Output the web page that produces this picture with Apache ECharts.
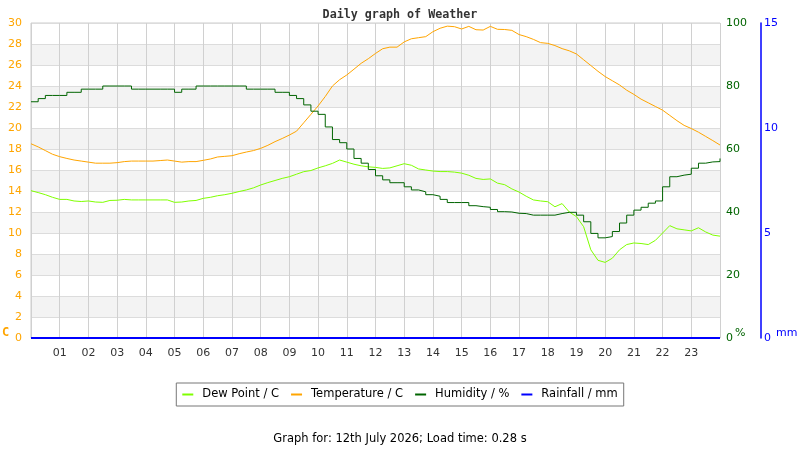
<!DOCTYPE html>
<html>
<head>
<meta charset="utf-8">
<script src="https://cdn.jsdelivr.net/npm/echarts@6/dist/echarts.min.js"></script>
<style>
html,body{margin:0;padding:0;background:#fff;}
#chart{width:800px;height:450px;}
</style>
</head>
<body>
<div id="chart"></div>
<script>
// Sample times (hours since midnight, every 15 minutes)
const hours = Array.from({length: 97}, (_, i) => i / 4);

const tempC = [
  18.5, 18.2, 17.85, 17.5,
  17.27, 17.1, 16.95, 16.85,
  16.75, 16.65, 16.65, 16.65,
  16.7, 16.8, 16.85, 16.85,
  16.85, 16.85, 16.9, 16.95,
  16.85, 16.75, 16.8, 16.8,
  16.92, 17.05, 17.24, 17.3,
  17.36, 17.55, 17.71, 17.85,
  18.06, 18.35, 18.7, 19.0,
  19.33, 19.7, 20.5, 21.3,
  22.1, 23.0, 24.0, 24.6,
  25.05, 25.6, 26.16, 26.6,
  27.1, 27.55, 27.7, 27.7,
  28.2, 28.5, 28.6, 28.7,
  29.17, 29.5, 29.7, 29.65,
  29.43, 29.68, 29.36, 29.33,
  29.68, 29.4, 29.38, 29.3,
  28.9, 28.7, 28.44, 28.13,
  28.06, 27.85, 27.56, 27.35,
  27.05, 26.5, 25.95, 25.4,
  24.9, 24.5, 24.1, 23.6,
  23.2, 22.75, 22.4, 22.05,
  21.7, 21.2, 20.7, 20.25,
  19.95, 19.6, 19.2, 18.8,
  18.38
];

const dewPointC = [
  14.03, 13.85, 13.65, 13.4,
  13.2, 13.2, 13.05, 13.0,
  13.05, 12.95, 12.92, 13.1,
  13.12, 13.2, 13.15, 13.15,
  13.15, 13.15, 13.15, 13.15,
  12.92, 12.95, 13.05, 13.1,
  13.3, 13.4, 13.55, 13.65,
  13.78, 13.95, 14.1, 14.3,
  14.57, 14.8, 15.0, 15.2,
  15.36, 15.6, 15.84, 15.95,
  16.2, 16.4, 16.63, 16.95,
  16.75, 16.55, 16.4, 16.3,
  16.25, 16.15, 16.2, 16.4,
  16.6, 16.45, 16.1, 16.0,
  15.9, 15.85, 15.85, 15.8,
  15.7, 15.5, 15.2, 15.1,
  15.15, 14.75, 14.6, 14.2,
  13.9, 13.5, 13.15, 13.05,
  12.98, 12.5, 12.8, 12.0,
  11.56, 10.6, 8.4, 7.4,
  7.2, 7.6, 8.4, 8.9,
  9.05, 9.0, 8.9, 9.3,
  10.0, 10.7, 10.4, 10.3,
  10.2, 10.5, 10.1, 9.8,
  9.7
];

const humidityPct = [
  75, 76, 77, 77,
  77, 78, 78, 79,
  79, 79, 80, 80,
  80, 80, 79, 79,
  79, 79, 79, 79,
  78, 79, 79, 80,
  80, 80, 80, 80,
  80, 80, 79, 79,
  79, 79, 78, 78,
  77, 76, 74, 72,
  71, 67, 63, 62,
  60, 57, 55.5, 53.5,
  51.5, 50.2, 49.3, 49.3,
  48, 47, 46.4, 45.5,
  45, 44, 43, 43,
  43, 42, 41.7, 41.5,
  40.8, 40.1, 40, 39.6,
  39.5, 39, 39, 39,
  39, 39.5, 39.9, 39.9,
  39, 36.9, 33.2, 31.8,
  32.2, 33.8, 36.5, 39,
  40.6, 41.5, 42.8, 43.5,
  48, 51.2, 51.7, 52,
  53.9, 55.5, 55.9, 56,
  57
];

const rainfallMm = [
  0, 0, 0, 0, 0, 0, 0, 0, 0, 0, 0, 0, 0, 0, 0, 0,
  0, 0, 0, 0, 0, 0, 0, 0, 0, 0, 0, 0, 0, 0, 0, 0,
  0, 0, 0, 0, 0, 0, 0, 0, 0, 0, 0, 0, 0, 0, 0, 0,
  0, 0, 0, 0, 0, 0, 0, 0, 0, 0, 0, 0, 0, 0, 0, 0,
  0, 0, 0, 0, 0, 0, 0, 0, 0, 0, 0, 0, 0, 0, 0, 0,
  0, 0, 0, 0, 0, 0, 0, 0, 0, 0, 0, 0, 0, 0, 0, 0,
  0
];

const seriesNames = ['Dew Point / C', 'Temperature / C', 'Humidity / %', 'Rainfall / mm'];
const titleText = 'Daily graph of Weather';
const footerText = 'Graph for: 12th July 2026; Load time: 0.28 s';

const pair = arr => hours.map((h, i) => [h, arr[i]]);

const chart = echarts.init(document.getElementById('chart'));
chart.setOption({
  animation: false,
  backgroundColor: '#ffffff',
  title: [
    {
      text: titleText, left: 'center', top: 4,
      textStyle: {fontFamily: 'DejaVu Sans Mono', fontWeight: 'bold', fontSize: 11.7, color: '#333'}
    },
    {
      text: footerText, left: 'center', top: 428,
      textStyle: {fontFamily: 'DejaVu Sans', fontWeight: 'normal', fontSize: 11.5, color: '#000'}
    }
  ],
  legend: {
    data: seriesNames,
    left: 'center', top: 383,
    borderColor: '#777', borderWidth: 1,
    padding: [5, 6],
    itemGap: 12,
    itemWidth: 11, itemHeight: 2,
    icon: 'rect',
    textStyle: {fontFamily: 'DejaVu Sans', fontSize: 11.5, color: '#000', padding: [0, 0, 0, 4], lineHeight: 13}
  },
  grid: {
    left: 31, right: 80, top: 23, bottom: 112,
    show: true, borderColor: '#cccccc', borderWidth: 1
  },
  xAxis: {
    type: 'value', min: 0, max: 24, interval: 1,
    axisLine: {show: false},
    axisTick: {show: false},
    splitLine: {show: true, lineStyle: {color: '#d0d0d0', width: 1}},
    axisLabel: {
      margin: 10, color: '#333', fontFamily: 'DejaVu Sans', fontSize: 11,
      formatter: v => (v === 0 || v === 24) ? '' : String(v).padStart(2, '0')
    }
  },
  yAxis: [
    {
      type: 'value', min: 0, max: 30, interval: 2, position: 'left',
      axisLine: {show: false}, axisTick: {show: false},
      splitLine: {show: true, lineStyle: {color: '#dcdcdc'}},
      splitArea: {show: true, areaStyle: {color: ['#ffffff', '#f3f3f3']}},
      axisLabel: {color: '#ffa500', fontFamily: 'DejaVu Sans', fontSize: 11, margin: 9}
    },
    {
      type: 'value', min: 0, max: 100, interval: 20, position: 'right',
      axisLine: {show: false}, axisTick: {show: false}, splitLine: {show: false},
      axisLabel: {color: '#006400', fontFamily: 'DejaVu Sans', fontSize: 11, margin: 6}
    },
    {
      type: 'value', min: 0, max: 15, interval: 5, position: 'right', offset: 41,
      axisLine: {show: true, lineStyle: {color: '#0000ff', width: 1.5}},
      axisTick: {show: false}, splitLine: {show: false},
      axisLabel: {color: '#0000ff', fontFamily: 'DejaVu Sans', fontSize: 11, margin: 3}
    }
  ],
  graphic: [
    {type: 'text', left: 2, top: 327, style: {text: 'C', fill: '#ffa500', font: 'bold 12px "DejaVu Sans Mono"'}},
    {type: 'text', left: 735, top: 328, style: {text: '%', fill: '#006400', font: '11px "DejaVu Sans"'}},
    {type: 'text', left: 776, top: 328, style: {text: 'mm', fill: '#0000ff', font: '11px "DejaVu Sans"'}}
  ],
  series: [
    {
      name: seriesNames[0], type: 'line', yAxisIndex: 0, data: pair(dewPointC),
      showSymbol: false, color: '#7fff00', lineStyle: {width: 1}, z: 3
    },
    {
      name: seriesNames[1], type: 'line', yAxisIndex: 0, data: pair(tempC),
      showSymbol: false, color: '#ffa500', lineStyle: {width: 1}, z: 3
    },
    {
      name: seriesNames[2], type: 'line', yAxisIndex: 1, data: pair(humidityPct), step: 'end',
      showSymbol: false, color: '#006400', lineStyle: {width: 1}, z: 4
    },
    {
      name: seriesNames[3], type: 'line', yAxisIndex: 2, data: pair(rainfallMm),
      showSymbol: false, color: '#0000ff', lineStyle: {width: 2}, z: 5
    }
  ]
});
</script>
</body>
</html>
